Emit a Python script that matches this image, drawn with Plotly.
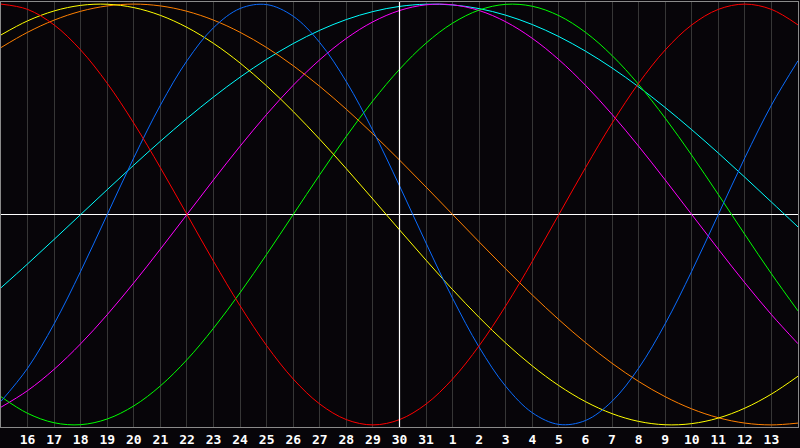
import plotly.graph_objects as go

# Day-of-month labels along the x axis (index 0 = left edge, index 30 = right edge)
days = [15, 16, 17, 18, 19, 20, 21, 22, 23, 24, 25, 26, 27, 28, 29, 30, 31,
        1, 2, 3, 4, 5, 6, 7, 8, 9, 10, 11, 12, 13, 14]
today_label = 30

# Cycle values read per day (-1 .. 1)
physical = [-0.8879, -0.7308, -0.5196, -0.2698, 0.0, 0.2698, 0.5196, 0.7308, 0.8879, 0.9791,
            0.9977, 0.9423, 0.8170, 0.6311, 0.3984, 0.1362, -0.1362, -0.3984, -0.6311, -0.8170,
            -0.9423, -0.9977, -0.9791, -0.8879, -0.7308, -0.5196, -0.2698, 0.0, 0.2698, 0.5196,
            0.7308]
emotional = [1.0, 0.9749, 0.9010, 0.7818, 0.6235, 0.4339, 0.2225, 0.0, -0.2225, -0.4339,
             -0.6235, -0.7818, -0.9010, -0.9749, -1.0, -0.9749, -0.9010, -0.7818, -0.6235, -0.4339,
             -0.2225, 0.0, 0.2225, 0.4339, 0.6235, 0.7818, 0.9010, 0.9749, 1.0, 0.9749,
             0.9010]
intellectual = [-0.8660, -0.9450, -0.9898, -0.9989, -0.9718, -0.9096, -0.8146, -0.6901, -0.5406, -0.3717,
                -0.1893, 0.0, 0.1893, 0.3717, 0.5406, 0.6901, 0.8146, 0.9096, 0.9718, 0.9989,
                0.9898, 0.9450, 0.8660, 0.7557, 0.6182, 0.4582, 0.2817, 0.0951, -0.0951, -0.2817,
                -0.4582]
intuitive = [-0.9158, -0.8372, -0.7357, -0.6142, -0.4759, -0.3247, -0.1646, 0.0, 0.1646, 0.3247,
             0.4759, 0.6142, 0.7357, 0.8372, 0.9158, 0.9694, 0.9966, 0.9966, 0.9694, 0.9158,
             0.8372, 0.7357, 0.6142, 0.4759, 0.3247, 0.1646, 0.0, -0.1646, -0.3247, -0.4759,
             -0.6142]
aesthetic = [0.8535, 0.9203, 0.9675, 0.9940, 0.9993, 0.9834, 0.9465, 0.8894, 0.8133, 0.7199,
             0.6112, 0.4894, 0.3573, 0.2174, 0.0730, -0.0730, -0.2174, -0.3573, -0.4894, -0.6112,
             -0.7199, -0.8133, -0.8894, -0.9465, -0.9834, -0.9993, -0.9940, -0.9675, -0.9203, -0.8535,
             -0.7686]
awareness = [0.7934, 0.8660, 0.9239, 0.9659, 0.9914, 1.0, 0.9914, 0.9659, 0.9239, 0.8660,
             0.7934, 0.7071, 0.6088, 0.5, 0.3827, 0.2588, 0.1305, 0.0, -0.1305, -0.2588,
             -0.3827, -0.5, -0.6088, -0.7071, -0.7934, -0.8660, -0.9239, -0.9659, -0.9914, -1.0,
             -0.9914]
spiritual = [-0.3482, -0.2349, -0.1183, 0.0, 0.1183, 0.2349, 0.3482, 0.4566, 0.5586, 0.6528,
             0.7378, 0.8125, 0.8757, 0.9267, 0.9646, 0.9890, 0.9996, 0.9960, 0.9786, 0.9473,
             0.9028, 0.8456, 0.7765, 0.6966, 0.6068, 0.5085, 0.4031, 0.2921, 0.1769, 0.0592,
             -0.0592]

series = [
    ("Spiritual", spiritual, "#00ffff"),
    ("Intuitive", intuitive, "#ff00ff"),
    ("Intellectual", intellectual, "#00ff00"),
    ("Awareness", awareness, "#ff8000"),
    ("Aesthetic", aesthetic, "#ffff00"),
    ("Physical", physical, "#0a6cff"),
    ("Emotional", emotional, "#ff0000"),
]

x = list(range(len(days)))
today_idx = days.index(today_label)

fig = go.Figure()
for name, vals, col in series:
    fig.add_trace(go.Scatter(x=x, y=vals, mode="lines", name=name,
                             line=dict(color=col, width=1, shape="spline"),
                             hoverinfo="skip"))

fig.add_vline(x=today_idx, line=dict(color="#ffffff", width=1.2), layer="above")

bg = "#070509"
fig.update_layout(
    width=800, height=448,
    paper_bgcolor=bg, plot_bgcolor=bg,
    margin=dict(l=1, r=1, t=1, b=20),
    showlegend=False,
    xaxis=dict(range=[0, len(days) - 1],
               tickvals=x[1:-1], ticktext=[str(d) for d in days[1:-1]],
               showgrid=True, gridcolor="#363636", gridwidth=1,
               showline=True, linecolor="#8a8a8a", linewidth=1, mirror=True,
               zeroline=False, ticks="", ticklen=0,
               tickfont=dict(family="DejaVu Sans Mono", size=13, color="#ffffff", weight="bold")),
    yaxis=dict(range=[-1.01, 1.01], showgrid=False, showticklabels=False,
               showline=True, linecolor="#8a8a8a", linewidth=1, mirror=True,
               zeroline=True, zerolinecolor="#ffffff", zerolinewidth=1.2),
)

fig.write_html("out.html", config={"displayModeBar": False},
               post_script="document.body.style.margin='0';document.body.style.overflow='hidden';"
                           "document.body.style.background='" + bg + "';")
